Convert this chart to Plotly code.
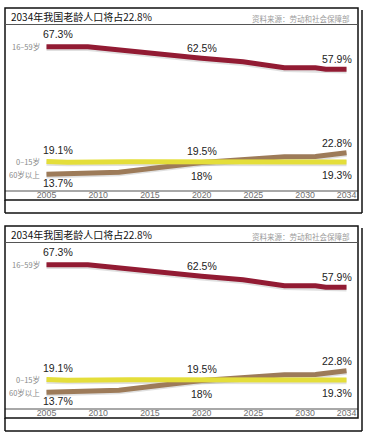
import plotly.graph_objects as go

W, H = 367, 437

title_text = "2034年我国老龄人口将占22.8%"
source_text = "资料来源：劳动和社会保障部"

years_working = [2005, 2009, 2020, 2024, 2028, 2031, 2032, 2034]
working_pct = [67.3, 67.3, 62.5, 61.0, 58.5, 58.5, 57.9, 57.9]

years_youth = [2005, 2007, 2013, 2019, 2025, 2034]
youth_pct = [19.1, 18.8, 19.0, 19.1, 19.1, 18.9]

years_elderly = [2005, 2012, 2020, 2025, 2028, 2031, 2034]
elderly_pct = [13.7, 14.6, 18.7, 20.4, 21.1, 21.2, 22.8]

series_names = ["16–59岁", "0–15岁", "60岁以上"]
series_colors = ["#921b33", "#e4de3a", "#9d7b59"]

label_years = [2005, 2020, 2034]
working_labels = ["67.3%", "62.5%", "57.9%"]
youth_labels = ["19.1%", "19.5%", "19.3%"]
elderly_labels = ["13.7%", "18%", "22.8%"]

tick_years = [2005, 2010, 2015, 2020, 2025, 2030, 2034]
tick_text = [str(t) for t in tick_years]

# ---- layout geometry (pixels) ----
PANEL_OFFSET = 218
X_LEFT, X_RIGHT = 5, 358
PLOT_TOP, PLOT_BOTTOM = 24.5, 190
X_RANGE = [2000.99, 2035.11]
Y_RANGE = [7.1, 76.7]


def px(x):
    return x / W


def py(y):
    return 1 - y / H


fig = go.Figure()
shapes = []
annotations = []

series = [
    (years_working, working_pct),
    (years_youth, youth_pct),
    (years_elderly, elderly_pct),
]
draw_order = [0, 2, 1]

for p in range(2):
    o = PANEL_OFFSET * p
    xa = "x" if p == 0 else "x2"
    ya = "y" if p == 0 else "y2"
    # soft shadows under the lines
    for i in draw_order:
        xs, ys = series[i]
        fig.add_trace(go.Scatter(
            x=xs, y=[v - 0.5 for v in ys], mode="lines", xaxis=xa, yaxis=ya,
            line=dict(color="rgba(0,0,0,0.12)", width=6), hoverinfo="skip",
            showlegend=False))
    for i in draw_order:
        xs, ys = series[i]
        fig.add_trace(go.Scatter(
            x=xs, y=ys, mode="lines", xaxis=xa, yaxis=ya,
            line=dict(color=series_colors[i], width=5),
            name=series_names[i], showlegend=False))

    # frames
    lc = "#111111"
    shapes += [
        dict(type="rect", xref="paper", yref="paper",
             x0=px(X_LEFT), x1=px(X_RIGHT), y0=py(200 + o), y1=py(8 + o),
             line=dict(color=lc, width=1.5)),
        dict(type="line", xref="paper", yref="paper",
             x0=px(X_LEFT), x1=px(362), y0=py(213 + o), y1=py(213 + o),
             line=dict(color=lc, width=1.5)),
        dict(type="line", xref="paper", yref="paper",
             x0=px(362), x1=px(362), y0=py(213 + o), y1=py(10 + o),
             line=dict(color=lc, width=1.5)),
        dict(type="line", xref="paper", yref="paper",
             x0=px(X_LEFT), x1=px(X_LEFT), y0=py(213 + o), y1=py(200 + o),
             line=dict(color=lc, width=1.5)),
        dict(type="line", xref="paper", yref="paper",
             x0=px(X_LEFT), x1=px(X_RIGHT), y0=py(PLOT_TOP + o), y1=py(PLOT_TOP + o),
             line=dict(color="#555555", width=1)),
    ]

    annotations.append(dict(
        text=title_text, xref="paper", yref="paper", x=px(9), y=py(16.5 + o),
        xanchor="left", yanchor="middle", showarrow=False,
        font=dict(family="Noto Sans CJK SC", size=10, color="#111111")))
    annotations.append(dict(
        text=source_text, xref="paper", yref="paper", x=px(352), y=py(18.5 + o),
        xanchor="right", yanchor="middle", showarrow=False,
        font=dict(family="Noto Sans CJK SC", size=7.5, color="#9a9a9a")))

    # series names at the left
    for i in range(3):
        xs, ys = series[i]
        annotations.append(dict(
            text=series_names[i], xref=xa, yref=ya, x=xs[0], y=ys[0],
            xanchor="right", yanchor="middle", xshift=-4, showarrow=False,
            font=dict(family="Noto Sans CJK SC", size=7.5, color="#888888")))

    # value labels
    xshifts = [11.5, 0, -9.5]
    groups = [
        (working_labels, [13, 10, 10]),
        (youth_labels, [11, 10, -14]),
        (elderly_labels, [-9, -11.5, 10]),
    ]
    for labels, yshifts in groups:
        for j, t in enumerate(labels):
            annotations.append(dict(
                text=t, xref=xa, yref=ya, x=label_years[j],
                y=float(t.rstrip("%")), xanchor="center", yanchor="middle",
                xshift=xshifts[j], yshift=yshifts[j], showarrow=False,
                font=dict(family="Liberation Sans", size=10.5, color="#222222")))

axis_common_x = dict(
    range=X_RANGE, tickvals=tick_years, ticktext=tick_text, showgrid=False,
    zeroline=False, showline=True, linecolor="#a8a8a8", linewidth=1.5,
    ticks="", ticklabelstandoff=-4,
    tickfont=dict(family="Liberation Sans", size=8.8, color="#6f6f6f"),
    domain=[px(X_LEFT), px(X_RIGHT)], fixedrange=True)
axis_common_y = dict(range=Y_RANGE, visible=False, showgrid=False,
                     zeroline=False, fixedrange=True)

fig.update_layout(
    width=W, height=H, margin=dict(l=0, r=0, t=0, b=0),
    paper_bgcolor="white", plot_bgcolor="rgba(0,0,0,0)",
    xaxis=dict(**axis_common_x, anchor="y"),
    yaxis=dict(**axis_common_y, domain=[py(PLOT_BOTTOM), py(PLOT_TOP)], anchor="x"),
    xaxis2=dict(**axis_common_x, anchor="y2"),
    yaxis2=dict(**axis_common_y,
                domain=[py(PLOT_BOTTOM + PANEL_OFFSET), py(PLOT_TOP + PANEL_OFFSET)],
                anchor="x2"),
    shapes=shapes, annotations=annotations, showlegend=False,
)

fig.write_html(
    "out.html",
    config={"displayModeBar": False},
    post_script="document.body.style.margin='0';document.body.style.overflow='hidden';",
)
